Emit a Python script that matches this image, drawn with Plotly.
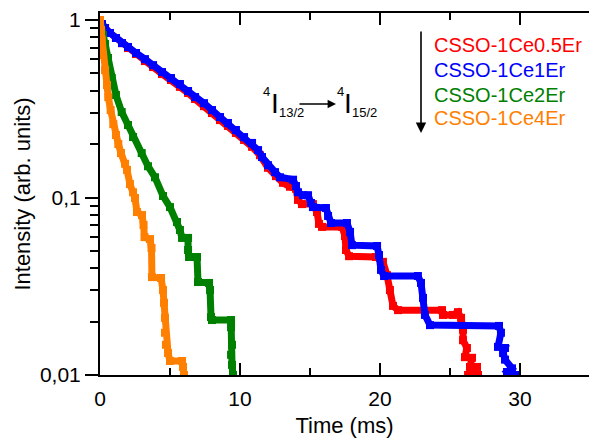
import plotly.graph_objects as go

# ---------------- data ----------------
t_red = [0, 0.14, 0.36, 0.71, 1.14, 1.57, 2.0, 2.57, 3.21, 3.79, 4.43, 5.07, 5.71, 6.29, 6.79,
         7.43, 8.0, 8.57, 9.14, 9.71, 10.29, 10.86, 11.43, 12.0, 12.57, 13.07, 13.57, 14.0,
         14.14, 14.43, 15.21, 15.5, 15.64, 15.86, 17.29, 17.5, 17.57, 17.79, 19.71, 20.21,
         20.5, 20.71, 20.93, 21.29, 24.43, 24.5, 25.21, 25.57, 25.79, 25.93, 25.93, 26.21,
         26.07, 26.57, 26.43, 26.93, 26.29, 27.0]
i_red = [1.0, 0.949, 0.901, 0.845, 0.792, 0.741, 0.695, 0.643, 0.587, 0.543, 0.496, 0.459,
         0.420, 0.388, 0.359, 0.327, 0.299, 0.273, 0.253, 0.231, 0.211, 0.193, 0.173, 0.147,
         0.132, 0.121, 0.115, 0.112, 0.0969, 0.0918, 0.0918, 0.0828, 0.0710, 0.0683, 0.0683,
         0.0607, 0.0506, 0.0467, 0.0462, 0.0434, 0.0365, 0.0301, 0.0245, 0.0232, 0.0232,
         0.0218, 0.0218, 0.0226, 0.0210, 0.0180, 0.0157, 0.0142, 0.0126, 0.0125, 0.0111,
         0.0111, 0.0100, 0.0100]

t_blue = [0, 0.14, 0.36, 0.71, 1.14, 1.57, 2.0, 2.57, 3.21, 3.79, 4.43, 5.07, 5.71, 6.29,
          6.79, 7.43, 8.0, 8.57, 9.14, 9.71, 10.29, 10.86, 11.29, 11.57, 12.0, 12.5, 12.86,
          13.79, 14.0, 14.14, 14.5, 14.86, 15.07, 15.21, 16.14, 16.29, 16.5, 17.64, 17.86,
          18.0, 19.79, 19.93, 20.07, 20.29, 22.71, 22.93, 23.07, 23.21, 23.57, 28.5, 28.64,
          28.43, 28.93, 28.79, 28.93, 29.43, 29.07, 29.29, 29.71]
i_blue = [1.0, 0.949, 0.901, 0.845, 0.792, 0.741, 0.705, 0.652, 0.602, 0.557, 0.509, 0.471,
          0.436, 0.398, 0.368, 0.340, 0.311, 0.284, 0.263, 0.240, 0.219, 0.203, 0.185, 0.169,
          0.152, 0.139, 0.130, 0.126, 0.116, 0.107, 0.103, 0.103, 0.0931, 0.0883, 0.0873,
          0.0787, 0.0718, 0.0718, 0.0640, 0.0539, 0.0533, 0.0474, 0.0391, 0.0361, 0.0361,
          0.0330, 0.0272, 0.0218, 0.0191, 0.0189, 0.0173, 0.0144, 0.0142, 0.0133, 0.0122,
          0.0109, 0.0104, 0.0100, 0.0100]

t_green = [0, 0.21, 0.36, 0.57, 0.84, 1.14, 1.55, 2.0, 2.36, 2.98, 3.43, 3.93, 4.5, 5.0,
           5.5, 5.71, 5.86, 6.29, 6.29, 6.36, 6.93, 7.0, 7.79, 7.86, 7.93, 8.0, 9.36, 9.36,
           9.43, 9.36, 9.43, 9.5]
i_green = [1.0, 0.823, 0.732, 0.611, 0.471, 0.378, 0.303, 0.256, 0.219, 0.178, 0.150, 0.130,
           0.102, 0.0883, 0.0728, 0.0656, 0.0592, 0.0592, 0.0506, 0.0462, 0.0462, 0.0334,
           0.0330, 0.0301, 0.0212, 0.0204, 0.0204, 0.0186, 0.0148, 0.0130, 0.0114, 0.0100]

t_orange = [0, 0.07, 0.12, 0.21, 0.36, 0.5, 0.59, 0.76, 0.95, 1.14, 1.31, 1.5, 1.79, 1.93,
            2.14, 2.36, 2.5, 2.64, 3.0, 3.11, 3.18, 3.57, 3.68, 3.71, 4.36, 4.5, 4.57, 4.64,
            4.64, 4.71, 4.86, 5.0, 5.86, 5.93, 6.0]
i_orange = [1.0, 0.879, 0.771, 0.635, 0.522, 0.430, 0.368, 0.311, 0.259, 0.225, 0.200, 0.178,
            0.155, 0.143, 0.119, 0.107, 0.0993, 0.0828, 0.0796, 0.070, 0.0598, 0.0583, 0.0519,
            0.0356, 0.0352, 0.0301, 0.0255, 0.0210, 0.0173, 0.0148, 0.0133, 0.0120, 0.0120,
            0.0111, 0.0100]

series_names = ["CSSO-1Ce0.5Er", "CSSO-1Ce1Er", "CSSO-1Ce2Er", "CSSO-1Ce4Er"]
series_colors = ["#FF0000", "#0000FF", "#008000", "#FF8000"]

x_tickvals = [0, 10, 20, 30]
y_tickvals = [0.01, 0.1, 1]
y_ticktext = ["0,01", "0,1", "1"]
y_minor = [k * 10 ** e for e in (-2, -1) for k in range(2, 10)]

FONT = "Liberation Sans, Arial, sans-serif"

fig = go.Figure()
for t, v, name, col in zip([t_red, t_blue, t_green, t_orange],
                           [i_red, i_blue, i_green, i_orange],
                           series_names, series_colors):
    fig.add_trace(go.Scatter(x=t, y=v, mode="lines+markers", name=name,
                             line=dict(color=col, width=7),
                             marker=dict(symbol="square", size=8, color=col),
                             showlegend=False))

# plot area in pixels: left 100, right 589, top 13, bottom 375
L, R, T, B = 100, 589, 13, 375


def px(xp, yp):
    return (xp - L) / (R - L), (B - yp) / (B - T)


ann = []
# legend-like coloured labels
legend_y = [45, 70, 95, 118]
for name, col, yy in zip(series_names, series_colors, legend_y):
    xx, yy2 = px(432, yy)
    ann.append(dict(x=xx, y=yy2, xref="paper", yref="paper", text=name, showarrow=False,
                    xanchor="left", yanchor="middle", font=dict(family=FONT, size=20, color=col)))

# vertical arrow
hx, hy = px(421, 133)
ann.append(dict(x=hx, y=hy, xref="paper", yref="paper", ax=0, ay=-103, axref="pixel",
                ayref="pixel", text="", showarrow=True, arrowhead=2, arrowsize=1.3,
                arrowwidth=1.6, arrowcolor="black"))


# transition label 4I13/2 -> 4I15/2
def txt(s, xp, yp, size, anchor="center"):
    xx, yy = px(xp, yp)
    ann.append(dict(x=xx, y=yy, xref="paper", yref="paper", text=s, showarrow=False,
                    xanchor=anchor, yanchor="middle", font=dict(family=FONT, size=size, color="black")))


txt("4", 266, 91, 13)
txt("I", 275, 104, 28)
txt("13/2", 277, 113, 13, "left")
txt("4", 340, 91, 13)
txt("I", 348, 104, 28)
txt("15/2", 350, 113, 13, "left")
hx, hy = px(336, 104)
ann.append(dict(x=hx, y=hy, xref="paper", yref="paper", ax=-38, ay=0, axref="pixel",
                ayref="pixel", text="", showarrow=True, arrowhead=2, arrowsize=1.2,
                arrowwidth=1.4, arrowcolor="black"))

fig.update_layout(
    width=589, height=440,
    margin=dict(l=L, r=589 - R, t=T, b=440 - B),
    paper_bgcolor="white", plot_bgcolor="white",
    font=dict(family=FONT, size=22, color="black"),
    annotations=ann,
    showlegend=False,
)
fig.update_xaxes(range=[0, (R - L) / 14.0], showline=True, linewidth=2, linecolor="black",
                 mirror="ticks", ticks="inside", ticklen=12, tickwidth=2, tickcolor="black",
                 tickvals=x_tickvals, showgrid=False, zeroline=False, ticklabelstandoff=4,
                 minor=dict(ticks="inside", ticklen=7, tickwidth=2, dtick=5, tick0=0,
                            tickcolor="black", showgrid=False),
                 title=dict(text="Time (ms)", font=dict(size=22), standoff=8),
                 tickfont=dict(size=21))
fig.update_yaxes(type="log", range=[-2, (B - T) / 177.5 - 2], showline=True, linewidth=2,
                 linecolor="black", mirror=False, ticks="outside", ticklen=13, tickwidth=2,
                 tickcolor="black", tickvals=y_tickvals, ticktext=y_ticktext, showgrid=False,
                 zeroline=False,
                 minor=dict(ticks="outside", ticklen=8, tickwidth=2, tickvals=y_minor,
                            tickcolor="black", showgrid=False),
                 title=dict(text="Intensity (arb. units)", font=dict(size=22), standoff=3),
                 tickfont=dict(size=21))

fig.write_html("out.html")
